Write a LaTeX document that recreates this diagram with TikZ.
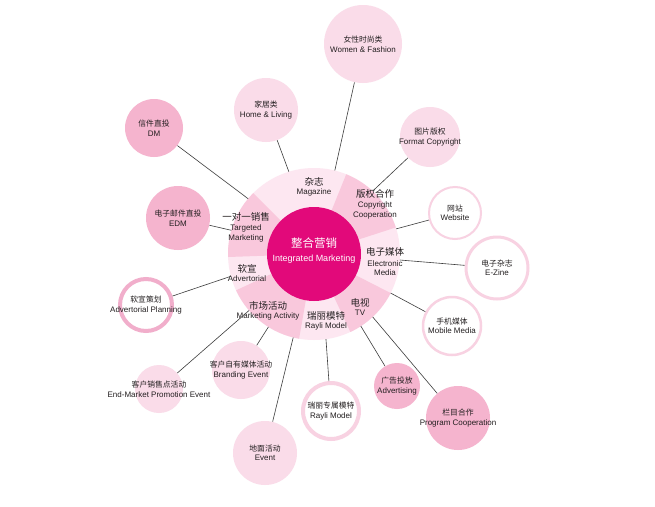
\documentclass[tikz,border=0pt]{standalone}
\usepackage{fontspec}
\setmainfont{Liberation Sans}
\newfontfamily\cjk{Noto Sans CJK SC}
\usetikzlibrary{calc}
\definecolor{hubred}{HTML}{E2097A}
\definecolor{ringlt}{HTML}{FDE7F1}
\definecolor{ringdk}{HTML}{F9C8DC}
\definecolor{bublt}{HTML}{FADCE9}
\definecolor{bubmd}{HTML}{F5B4CE}
\definecolor{rimlt}{HTML}{F8D2E2}
\definecolor{rimdk}{HTML}{F1AECB}
\definecolor{ink}{HTML}{231F20}
\definecolor{wirecol}{HTML}{3C3C3C}
\newcommand{\segzh}[1]{{\cjk\fontsize{9.5}{11}\selectfont #1}}
\newcommand{\bubzh}[1]{{\cjk\fontsize{7.8}{10}\selectfont #1}}
\begin{document}
\begin{tikzpicture}[x=1pt,y=-1pt,line width=0.6pt,
  every node/.style={text=ink,inner sep=0pt,align=center,font=\fontsize{8}{9.5}\selectfont},
  bub/.style={circle,minimum size=#1},
  rim/.style={draw=rimlt,fill=white,line width=#1},
  wire/.style={draw=wirecol,line width=0.6pt}]
\fill[white] (0,0) rectangle (655,506);
\coordinate (ctr) at (314,254);
\fill[ringlt] (ctr) circle[radius=86];
\foreach \a/\b in {-68/-18,27/65,100/155,178/225}
  \fill[ringdk] (ctr) -- ++(\a:86) arc[start angle=\a,end angle=\b,radius=86] -- cycle;
\node[bub=94,fill=hubred] (hub) at (ctr) {};
\node[text=white,font=\fontsize{9}{10}\selectfont] (hubtxt) at (314,251)
  {{\cjk\fontsize{11.5}{12}\selectfont 整合营销}\\[4pt]Integrated Marketing};
\coordinate (k-wf) at ($(ctr)+(-76:86)$);
\coordinate (k-hl) at ($(ctr)+(-107:86)$);
\coordinate (k-fc) at ($(ctr)+(-47:86)$);
\coordinate (k-web) at ($(ctr)+(-17:86)$);
\coordinate (k-ez) at ($(ctr)+(4:86)$);
\coordinate (k-mm) at ($(ctr)+(27:86)$);
\coordinate (k-pc) at ($(ctr)+(47:86)$);
\coordinate (k-adg) at ($(ctr)+(57:86)$);
\coordinate (k-ry) at ($(ctr)+(82:86)$);
\coordinate (k-ev) at ($(ctr)+(104:86)$);
\coordinate (k-be) at ($(ctr)+(122:86)$);
\coordinate (k-emp) at ($(ctr)+(139:86)$);
\coordinate (k-ap) at ($(ctr)+(165:86)$);
\coordinate (k-edm) at ($(ctr)+(196:86)$);
\coordinate (k-dm) at ($(ctr)+(220:86)$);
\node (l-mag) at (314,187) {\segzh{杂志}\\Magazine};
\node (l-cop) at (375,204) {\segzh{版权合作}\\[1pt]Copyright\\Cooperation};
\node (l-ele) at (385,262) {\segzh{电子媒体}\\[1pt]Electronic\\Media};
\node (l-tv) at (360,307) {\segzh{电视}\\TV};
\node (l-ray) at (326,321) {\segzh{瑞丽模特}\\Rayli Model};
\node (l-mkt) at (268,311) {\segzh{市场活动}\\Marketing Activity};
\node (l-adv) at (247,273) {\segzh{软宣}\\Advertorial};
\node (l-tgt) at (246,227) {\segzh{一对一销售}\\[1pt]Targeted\\Marketing};
\node[bub=78,fill=bublt,label={center:{\bubzh{女性时尚类}\\Women \& Fashion}}] (wf) at (363,44) {};
\node[bub=64,fill=bublt,label={center:{\bubzh{家居类}\\Home \& Living}}] (hl) at (266,110) {};
\node[bub=58,fill=bubmd,label={center:{\bubzh{信件直投}\\DM}}] (dm) at (154,128) {};
\node[bub=64,fill=bubmd,label={center:{\bubzh{电子邮件直投}\\EDM}}] (edm) at (178,218) {};
\node[bub=60,fill=bublt,label={center:{\bubzh{图片版权}\\Format Copyright}}] (fc) at (430,137) {};
\node[bub=52,rim=2pt,label={center:{\bubzh{网站}\\Website}}] (web) at (455,213) {};
\node[bub=62,rim=3pt,label={center:{\bubzh{电子杂志}\\E-Zine}}] (ez) at (497,268) {};
\node[bub=58,rim=2.5pt,label={center:{\bubzh{手机媒体}\\Mobile Media}}] (mm) at (452,326) {};
\node[bub=52,rim=4pt,draw=rimdk,label={center:{\bubzh{软宣策划}\\Advertorial Planning}}] (ap) at (146,305) {};
\node[bub=48,fill=bublt,label={center:{\bubzh{客户销售点活动}\\End-Market Promotion Event}}] (emp) at (159,389) {};
\node[bub=58,fill=bublt,label={center:{\bubzh{客户自有媒体活动}\\Branding Event}}] (be) at (241,370) {};
\node[bub=64,fill=bublt,label={center:{\bubzh{地面活动}\\Event}}] (ev) at (265,453) {};
\node[bub=56,rim=4pt,label={center:{\bubzh{瑞丽专属模特}\\Rayli Model}}] (ry) at (331,411) {};
\node[bub=46,fill=bubmd,label={center:{\bubzh{广告投放}\\Advertising}}] (adg) at (397,386) {};
\node[bub=64,fill=bubmd,label={center:{\bubzh{栏目合作}\\Program Cooperation}}] (pc) at (458,418) {};
\foreach \n in {wf,hl,fc,web,ez,mm,pc,adg,ry,ev,be,emp,ap,edm,dm}
  \draw[wire] (\n) -- (k-\n);
\end{tikzpicture}
\end{document}
